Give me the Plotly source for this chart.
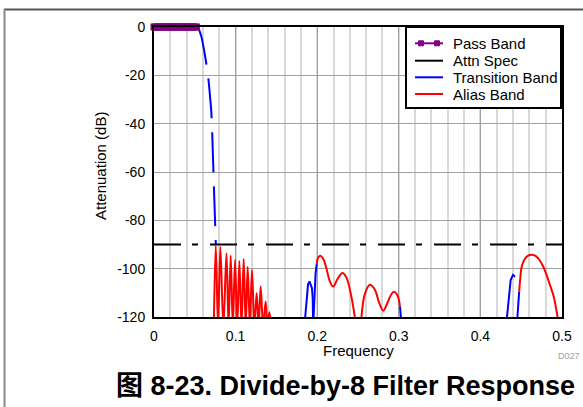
import plotly.graph_objects as go

# ---------------- data ----------------
pass_f = [0.000, 0.002, 0.004, 0.006, 0.008, 0.010, 0.012, 0.014, 0.016, 0.018,
          0.020, 0.022, 0.024, 0.026, 0.028, 0.030, 0.032, 0.034, 0.036, 0.038,
          0.040, 0.042, 0.044, 0.046, 0.048, 0.050, 0.052]
pass_db = [0, 0, 0, 0, 0, 0, 0, 0, 0, 0, 0, 0, 0, 0, 0, 0, 0, 0, 0, 0,
           0, 0, 0, 0, 0, 0, 0]

spec_f = [0.0, 0.5]
spec_db = [-90, -90]

# main transition roll-off (drawn dashed in the reference)
trans_f = [0.0515, 0.0535, 0.0550, 0.0565, 0.0585, 0.0605, 0.0625, 0.0645,
           0.0665, 0.0690, 0.0700, 0.0710, 0.0720, 0.0730, 0.0740, 0.0750, 0.0758]
trans_db = [0.0, -0.3, -1.0, -2.3, -4.6, -8.0, -11.8, -16.0,
            -21.0, -30.0, -34.0, -40.5, -51.0, -61.5, -72.0, -82.0, -90.0]

# other transition-band pieces
trans2_f = [0.1848, 0.1868, 0.1888, 0.1905, 0.1922, 0.1935, 0.1945, 0.1950, None,
            0.1953, 0.1965, 0.1980, 0.1994, None,
            0.3015, 0.3030, None,
            0.4320, 0.4345, 0.4371, 0.4400, 0.4424, None,
            0.4450, 0.4462, 0.4475]
trans2_db = [-122, -112, -106.5, -105.3, -106.5, -108, -112, -122, None,
             -122, -110, -102, -98.1, None,
             -115.7, -122, None,
             -122, -112, -104.7, -102.6, -103.3, None,
             -122, -115, -109.5]

alias_f = [0.0733, 0.0757, 0.0785, 0.0813, 0.0850, 0.0888, 0.0914, 0.0940, 0.0966,
           0.0993, 0.1020, 0.1046, 0.1072, 0.1099, 0.1124, 0.1148, 0.1175, 0.1201,
           0.1230, 0.1258, 0.1283, 0.1307, 0.1338, 0.1368, 0.1390, 0.1413, 0.1440,
           None,
           0.1994, 0.2015, 0.2043, 0.2075, 0.2110, 0.2157, 0.2197, 0.2247, 0.2310,
           0.2360, 0.2410, 0.2440, 0.2470,
           None,
           0.2540, 0.2586, 0.2647, 0.2708, 0.2761, 0.2810, 0.2859, 0.2905, 0.2941,
           0.2982, 0.3015,
           None,
           0.4475, 0.4490, 0.4506, 0.4540, 0.4580, 0.4630, 0.4680, 0.4720, 0.4771,
           0.4820, 0.4860, 0.4894, 0.4920, 0.4950]
alias_db = [-124, -90.5, -124, -91.0, -124, -93.6, -124, -94.6, -124,
            -96.4, -124, -96.8, -124, -96.0, -124, -99.2, -124, -100.5,
            -124, -110.2, -124, -107.4, -124, -113.6, -124, -118.0, -124,
            None,
            -98.1, -95.2, -94.7, -96.0, -99.5, -105.4, -107.4, -104.4, -101.8,
            -103.8, -110.2, -115.5, -122,
            None,
            -121, -110.2, -106.7, -108.8, -114.3, -117.4, -114.3, -110.8, -109.6,
            -110.9, -115.7,
            None,
            -109.5, -103.5, -99.2, -96.2, -94.7, -94.2, -94.8, -96.2, -99.2,
            -103.5, -107.5, -111.0, -115.0, -121]

x_ticks = [0, 0.1, 0.2, 0.3, 0.4, 0.5]
x_labels = ["0", "0.1", "0.2", "0.3", "0.4", "0.5"]
y_ticks = [0, -20, -40, -60, -80, -100, -120]
y_labels = ["0", "-20", "-40", "-60", "-80", "-100", "-120"]

legend_names = ["Pass Band", "Attn Spec", "Transition Band", "Alias Band"]
legend_colors = ["#800080", "#000000", "#0000ff", "#ff0000"]

# ---------------- layout helpers ----------------
W, H = 583, 407
L, R, T, B = 154, 562, 27, 317


def px(xp):
    return (xp - L) / (R - L)


def py(yp):
    return (B - yp) / (B - T)


FONT = "Liberation Sans, Arial, sans-serif"

fig = go.Figure()

fig.add_trace(go.Scatter(
    x=alias_f, y=alias_db, mode="lines", name="Alias Band",
    line=dict(color="#ff0000", width=2, shape="spline", smoothing=1),
    connectgaps=False, showlegend=False))
fig.add_trace(go.Scatter(
    x=trans2_f, y=trans2_db, mode="lines", name="Transition Band",
    line=dict(color="#0000ff", width=2), connectgaps=False,
    showlegend=False))
fig.add_trace(go.Scatter(
    x=trans_f, y=trans_db, mode="lines", name="Transition Band",
    line=dict(color="#0000ff", width=2, dash="40px,14px", shape="spline"),
    showlegend=False))
fig.add_trace(go.Scatter(
    x=spec_f, y=spec_db, mode="lines", name="Attn Spec",
    line=dict(color="#000000", width=2, dash="27px,11px,6px,12px"),
    showlegend=False))
fig.add_trace(go.Scatter(
    x=pass_f, y=pass_db, mode="lines+markers", name="Pass Band",
    line=dict(color="#800080", width=2),
    marker=dict(symbol="square", size=7, color="#800080"),
    cliponaxis=False, showlegend=False))

shapes = [
    # outer page frame
    dict(type="line", xref="paper", yref="paper",
         x0=px(4), x1=px(583), y0=py(9.5), y1=py(9.5),
         line=dict(color="#555555", width=2)),
    dict(type="line", xref="paper", yref="paper",
         x0=px(4.5), x1=px(4.5), y0=py(9), y1=py(407),
         line=dict(color="#888888", width=2)),
    # legend box
    dict(type="rect", xref="paper", yref="paper", layer="above",
         x0=px(406), x1=px(561), y0=py(27), y1=py(108),
         line=dict(color="black", width=2), fillcolor="white"),
]
annotations = []
row_y = [43.3, 60.7, 77.3, 94.0]
for name, col, yy in zip(legend_names, legend_colors, row_y):
    shapes.append(dict(type="line", xref="paper", yref="paper", layer="above",
                       x0=px(415), x1=px(443), y0=py(yy), y1=py(yy),
                       line=dict(color=col, width=2)))
    annotations.append(dict(text=name, xref="paper", yref="paper",
                            x=px(451), y=py(yy), showarrow=False,
                            xanchor="left", yanchor="middle",
                            font=dict(family=FONT, size=15, color="black")))
for mx in (421, 437):
    shapes.append(dict(type="rect", xref="paper", yref="paper", layer="above",
                       x0=px(mx - 2.5), x1=px(mx + 2.5),
                       y0=py(row_y[0] - 2.5), y1=py(row_y[0] + 2.5),
                       line=dict(color="#800080", width=1), fillcolor="#800080"))

annotations += [
    dict(text="Frequency", xref="paper", yref="paper",
         x=px(358), y=py(350), showarrow=False,
         xanchor="center", yanchor="middle",
         font=dict(family=FONT, size=15)),
    dict(text="Attenuation (dB)", xref="paper", yref="paper",
         x=px(100), y=py(166), showarrow=False, textangle=-90,
         xanchor="center", yanchor="middle",
         font=dict(family=FONT, size=15)),
    dict(text="D027", xref="paper", yref="paper",
         x=px(582), y=py(356), showarrow=False,
         xanchor="right", yanchor="middle",
         font=dict(family=FONT, size=9, color="#a0a0a0")),
    dict(text="<b>图 8-23. Divide-by-8 Filter Response</b>",
         xref="paper", yref="paper",
         x=px(345), y=py(386), showarrow=False,
         xanchor="center", yanchor="middle",
         font=dict(family="Liberation Sans, Noto Sans CJK SC, sans-serif",
                   size=27, color="black")),
]

fig.update_layout(
    width=W, height=H,
    margin=dict(l=L, r=W - R, t=T, b=H - B, pad=0),
    paper_bgcolor="white", plot_bgcolor="white",
    font=dict(family=FONT, size=14, color="black"),
    showlegend=False,
    xaxis=dict(
        range=[0, 0.5], tickvals=x_ticks, ticktext=x_labels,
        showline=True, linecolor="black", linewidth=2, mirror=True,
        showgrid=True, gridcolor="#a0a0a0", gridwidth=1,
        minor=dict(dtick=0.02, showgrid=True, gridcolor="#d9d9d9", gridwidth=2),
        zeroline=False, ticks="", ticklabelstandoff=5,
        tickfont=dict(family=FONT, size=14),
    ),
    yaxis=dict(
        range=[-120, 0], tickvals=y_ticks, ticktext=y_labels,
        showline=True, linecolor="black", linewidth=2, mirror=True,
        showgrid=True, gridcolor="#a0a0a0", gridwidth=1,
        zeroline=False, ticks="", ticklabelstandoff=4,
        tickfont=dict(family=FONT, size=14),
    ),
    shapes=shapes,
    annotations=annotations,
)

fig.write_html("out.html",
               config={"displayModeBar": False, "staticPlot": True},
               post_script="document.body.style.margin='0';"
                           "document.body.style.overflow='hidden';")
